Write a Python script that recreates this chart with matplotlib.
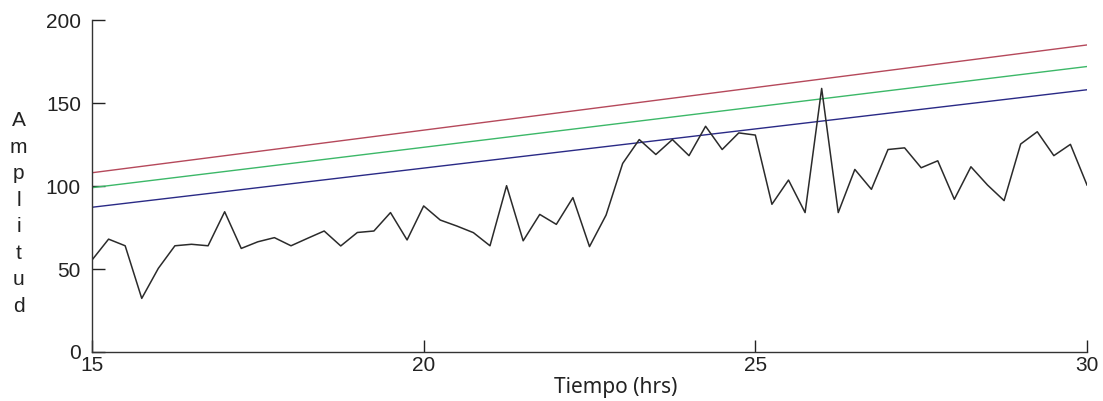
import numpy as np
import matplotlib
matplotlib.use("Agg")
import matplotlib.pyplot as plt

plt.rcParams['font.family'] = ['Liberation Sans', 'DejaVu Sans']

# Time axis (hours), sampled every 0.25 h
time_start, time_end, time_step = 15.0, 30.0, 0.25
amplitude = [
    55.4, 68, 64, 32.3, 50.4, 64, 64.9, 64, 84.5, 62.4,
    66.4, 68.9, 64, 68.5, 72.9, 63.9, 72, 72.9, 84, 67.5,
    88, 79.5, 75.9, 71.9, 64, 100.2, 67, 82.9, 76.9, 93,
    63.5, 82.5, 113.6, 128, 119, 128, 118.3, 136, 122, 132,
    130.7, 89, 103.6, 84, 158.8, 84, 110, 98, 122, 123,
    111, 115.2, 92, 111.6, 100.6, 91.2, 125.3, 132.7, 118.3, 125.1,
    100.6,
]
time = np.arange(len(amplitude)) * time_step + time_start

# Threshold lines (values at start and end of the window)
line_x = [15, 30]
upper_red = [108, 185]
mid_green = [99, 172]
lower_blue = [87.2, 158]

xticks = [15, 20, 25, 30]
yticks = [0, 50, 100, 150, 200]

fig = plt.figure(figsize=(11.03, 4.01), dpi=100)
ax = fig.add_axes([0.0834, 0.1222, 0.9021, 0.8278])

ax.plot(line_x, upper_red, color='#b5495b', lw=1.0)
ax.plot(line_x, mid_green, color='#3cb868', lw=1.0)
ax.plot(line_x, lower_blue, color='#2a2a86', lw=1.0)
ax.plot(time, amplitude, color='#2b2b2b', lw=1.1)

ax.set_xlim(15, 30)
ax.set_ylim(0, 200)
ax.set_xticks(xticks)
ax.set_yticks(yticks)
ax.spines['top'].set_visible(False)
ax.spines['right'].set_visible(False)
for s in ('left', 'bottom'):
    ax.spines[s].set_color('#333333')
    ax.spines[s].set_linewidth(1.0)
ax.tick_params(direction='in', length=9, width=1, labelsize=15, colors='#222222')
ax.tick_params(axis='x', pad=3)
ax.tick_params(axis='y', pad=8)

fig.text(616 / 1103, 1 - 388 / 401, 'Tiempo (hrs)', fontsize=15, ha='center',
         va='center', family=['Noto Sans', 'DejaVu Sans'], color='#222222')
fig.text(0.0168, 0.467, '\n'.join('Amplitud'), fontsize=15, ha='center', va='center',
         linespacing=1.5, color='#222222')

fig.savefig('out.png', dpi=100)
